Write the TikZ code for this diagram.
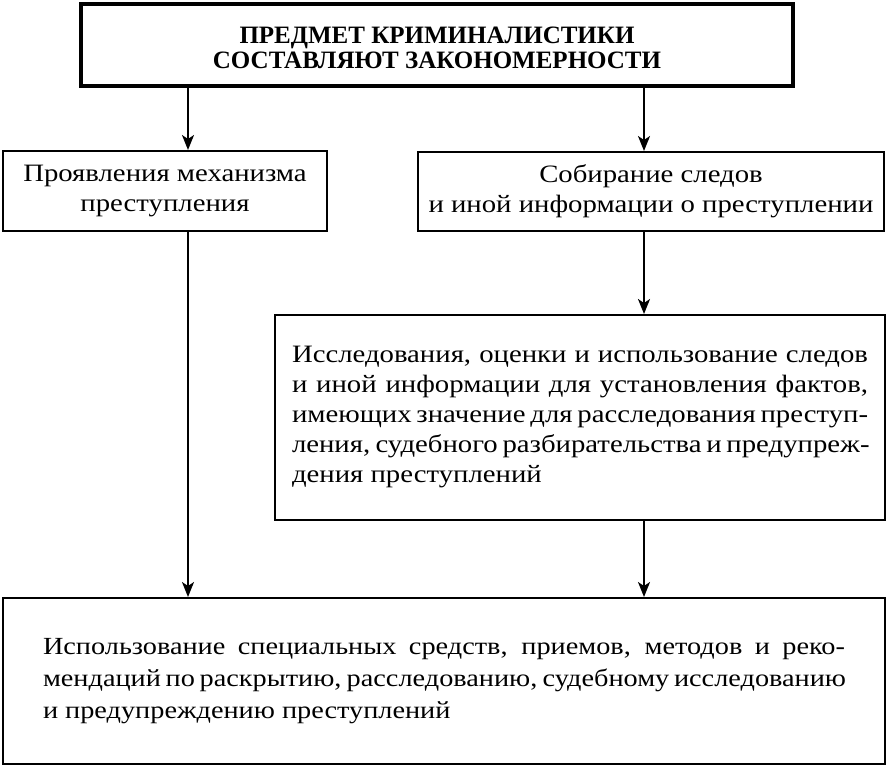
\documentclass[tikz,border=0pt]{standalone}
\usepackage{fontspec}
\setmainfont{Liberation Serif}[FakeStretch=1.15]
\newfontfamily\headfont{Liberation Serif}
\usetikzlibrary{arrows.meta}
\newcommand\jline[2]{\makebox[#1][s]{#2}}
\begin{document}
\begin{tikzpicture}[x=1pt,y=-1pt,
  box/.style={draw, line width=2pt, inner sep=0pt, align=center,
    font=\fontsize{25}{30}\selectfont},
  textbox/.style={draw, line width=2pt, inner sep=0pt, align=left},
  topbox/.style={draw, line width=4pt, inner sep=0pt, align=center,
    font=\headfont\bfseries\fontsize{25}{25.5}\selectfont},
  arr/.style={line width=2pt, -{Stealth[length=15pt,width=12pt,inset=4pt]}}]
\useasboundingbox (0,0) rectangle (888,768);
\fill[white] (0,0) rectangle (888,768);
\coordinate (cL) at (188,0);
\coordinate (cR) at (644,0);
\node[topbox, minimum width=712pt, minimum height=82pt] (top) at (437,45)
  {\rule{0pt}{22pt}ПРЕДМЕТ КРИМИНАЛИСТИКИ\\СОСТАВЛЯЮТ ЗАКОНОМЕРНОСТИ};
\node[box, minimum width=324pt, minimum height=80pt] (lbox) at (165,191)
  {Проявления механизма\\преступления};
\node[box, minimum width=466pt, minimum height=79pt] (rbox) at (651,191.5)
  {Собирание следов\\и иной информации о преступлении};
\node[textbox, minimum width=610pt, minimum height=205pt,
  font=\fontsize{25}{30}\selectfont] (mbox) at (580,417.5)
  {\jline{576pt}{Исследования, оценки и использование следов}\\
   \jline{576pt}{и иной информации для установления фактов,}\\
   \jline{576pt}{имеющих значение для расследования преступ-}\\
   \jline{576pt}{ления, судебного разбирательства и предупреж-}\\
   дения преступлений};
\node[textbox, minimum width=882pt, minimum height=166pt,
  font=\fontsize{24.6}{32}\selectfont] (bbox) at (444,681)
  {\jline{802pt}{Использование специальных средств, приемов, методов и реко-}\\
   \jline{802pt}{мендаций по раскрытию, расследованию, судебному исследованию}\\
   и предупреждению преступлений};
\draw[arr] (top.south -| cL) -- (lbox.north -| cL);
\draw[arr] (top.south -| cR) -- (rbox.north -| cR);
\draw[arr] (rbox.south -| cR) -- (mbox.north -| cR);
\draw[arr] (lbox.south -| cL) -- (bbox.north -| cL);
\draw[arr] (mbox.south -| cR) -- (bbox.north -| cR);
\end{tikzpicture}
\end{document}
